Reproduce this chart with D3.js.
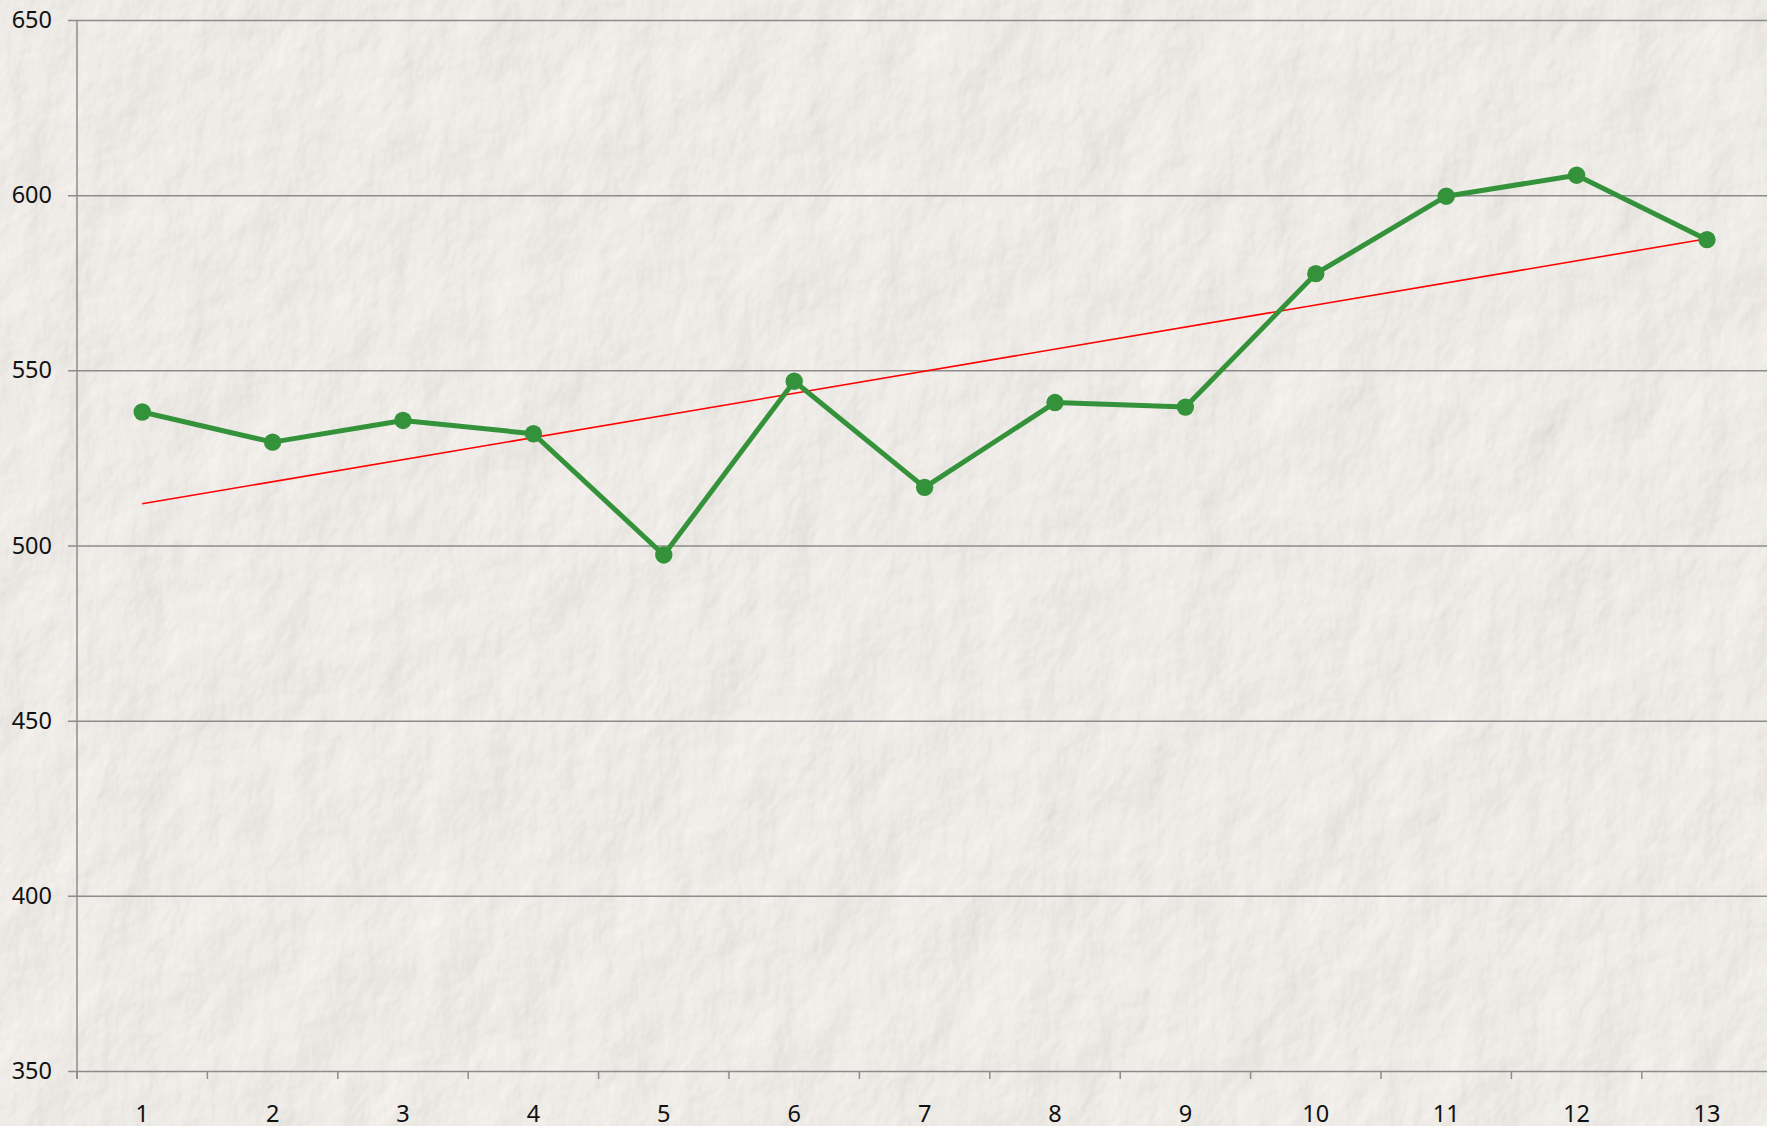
<!DOCTYPE html>
<html>
<head>
<meta charset="utf-8">
<script src="https://cdn.jsdelivr.net/npm/d3@7"></script>
<style>
  body { margin: 0; background: #f1eeea; overflow: hidden; }
  svg { display: block; }
</style>
</head>
<body>
<svg id="chart" width="1767" height="1126"></svg>
<script>
// values
const categories = ["1","2","3","4","5","6","7","8","9","10","11","12","13"];
const values = [538.1, 529.5, 535.7, 531.9, 497.3, 546.9, 516.6, 540.8, 539.5, 577.6, 599.7, 605.7, 587.3];
const yTicks = [350, 400, 450, 500, 550, 600, 650];

const W = 1767, H = 1126;
const svg = d3.select("#chart");

// paper texture background
const defs = svg.append("defs");
const f = defs.append("filter").attr("id", "paper")
    .attr("x", 0).attr("y", 0).attr("width", "100%").attr("height", "100%");
f.append("feTurbulence").attr("type", "fractalNoise")
    .attr("baseFrequency", "0.014 0.01").attr("numOctaves", 5).attr("seed", 7).attr("result", "noise");
const light = f.append("feDiffuseLighting").attr("in", "noise")
    .attr("surfaceScale", 3.2).attr("lighting-color", "#f7f4f0").attr("diffuseConstant", 1.08).attr("result", "lit");
light.append("feDistantLight").attr("azimuth", 225).attr("elevation", 58);

svg.append("rect").attr("width", W).attr("height", H).attr("fill", "#efece8");
svg.append("rect").attr("width", W).attr("height", H).attr("filter", "url(#paper)").attr("opacity", 0.85);

const plotL = 77, plotT = 20, plotB = 1071;
const band = 130.4;

const x = d3.scaleBand().domain(categories).range([plotL, plotL + band * categories.length]).padding(0);
const y = d3.scaleLinear().domain([350, 650]).range([plotB, plotT]);

const font = "'Noto Sans', 'Open Sans', sans-serif";

// gridlines + y labels
const yAxis = d3.axisLeft(y).tickValues(yTicks).tickSize(-(W - plotL)).tickSizeOuter(0).tickPadding(14);
const gy = svg.append("g").attr("transform", `translate(${plotL},0)`).call(yAxis);
gy.select(".domain").remove();
gy.selectAll(".tick line").attr("x1", -9).attr("stroke", "#8c8c8c").attr("stroke-width", 1.5);
gy.selectAll(".tick text").attr("font-family", font).attr("font-size", 23.5).attr("fill", "#111")
    .attr("x", -25);

// vertical axis line
svg.append("line").attr("x1", plotL).attr("x2", plotL).attr("y1", plotT).attr("y2", plotB + 8)
    .attr("stroke", "#8c8c8c").attr("stroke-width", 1.5);

// x axis
const xAxis = d3.axisBottom(x).tickSize(0).tickPadding(34);
const gx = svg.append("g").attr("transform", `translate(0,${plotB})`).call(xAxis);
gx.select(".domain").remove();
gx.selectAll(".tick text").attr("font-family", font).attr("font-size", 23.5).attr("fill", "#111");
// category tick marks on band boundaries
svg.append("g").selectAll("line").data(categories).join("line")
    .attr("x1", d => x(d)).attr("x2", d => x(d))
    .attr("y1", plotB).attr("y2", plotB + 8)
    .attr("stroke", "#8c8c8c").attr("stroke-width", 1.5);

const cx = d => x(d) + x.bandwidth() / 2;

// linear trendline (least squares)
const n = values.length;
const xs = values.map((v, i) => i + 1);
const mx = d3.mean(xs), my = d3.mean(values);
const slope = d3.sum(xs, (xi, i) => (xi - mx) * (values[i] - my)) / d3.sum(xs, xi => (xi - mx) ** 2);
const icpt = my - slope * mx;
svg.append("line")
    .attr("x1", cx(categories[0])).attr("y1", y(icpt + slope * 1))
    .attr("x2", cx(categories[n - 1])).attr("y2", y(icpt + slope * n))
    .attr("stroke", "#ff0000").attr("stroke-width", 1.6);

// main series
const line = d3.line().x((d, i) => cx(categories[i])).y(d => y(d));
svg.append("path").datum(values).attr("d", line)
    .attr("fill", "none").attr("stroke", "#34933a").attr("stroke-width", 5)
    .attr("stroke-linejoin", "round");

svg.append("g").selectAll("circle").data(values).join("circle")
    .attr("cx", (d, i) => cx(categories[i])).attr("cy", d => y(d)).attr("r", 8.7)
    .attr("fill", "#34933a");
</script>
</body>
</html>
